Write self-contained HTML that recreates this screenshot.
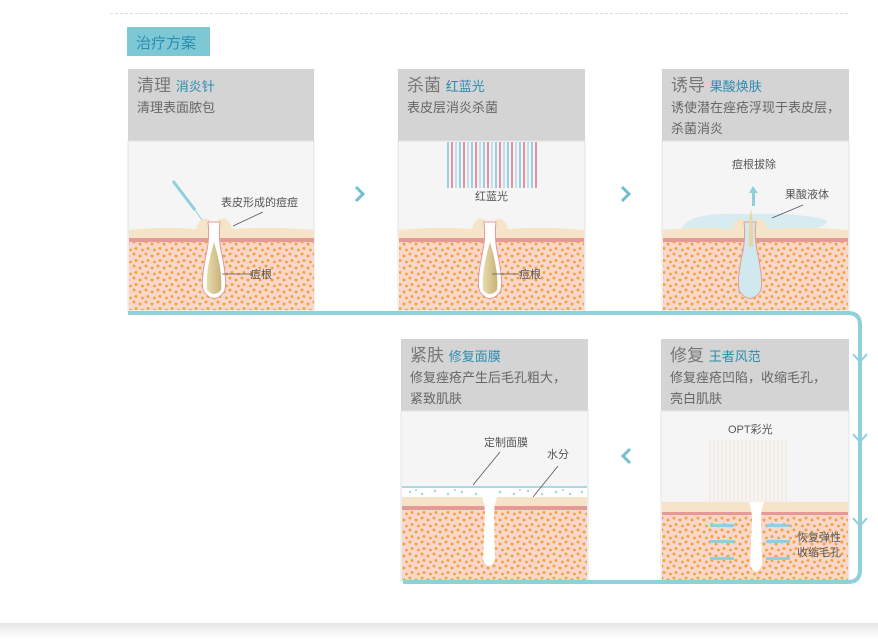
<!DOCTYPE html>
<html><head><meta charset="utf-8"><style>
body{margin:0;width:878px;height:639px;overflow:hidden;background:#fff;font-family:"Liberation Sans","Noto Sans CJK SC",sans-serif;}
svg text{font-family:"Liberation Sans","Noto Sans CJK SC",sans-serif;}
</style></head><body>
<svg width="878" height="639" viewBox="0 0 878 639" xmlns="http://www.w3.org/2000/svg">
<defs>
<pattern id="dots" width="12" height="12" patternUnits="userSpaceOnUse">
<rect width="12" height="12" fill="#f8d8cc"/>
<circle cx="2" cy="2" r="1.5" fill="#f6a23c"/><circle cx="8" cy="4" r="1.5" fill="#f6a23c"/>
<circle cx="4" cy="8.5" r="1.5" fill="#f6a23c"/><circle cx="10.5" cy="10" r="1.4" fill="#f6a23c"/>
</pattern>
<linearGradient id="bot" x1="0" y1="0" x2="0" y2="1"><stop offset="0" stop-color="#e6e6e6"/><stop offset="1" stop-color="#fff"/></linearGradient>
<linearGradient id="root" x1="0" y1="0" x2="1" y2="0"><stop offset="0" stop-color="#e8dcae"/><stop offset="1" stop-color="#c9b27a"/></linearGradient>
</defs>
<line x1="110" y1="13.5" x2="850" y2="13.5" stroke="#ddd" stroke-dasharray="3,2"/>
<rect x="0" y="623" width="878" height="16" fill="url(#bot)"/>
<rect x="127" y="27" width="83" height="29" fill="#7ec8d6"/>
<text x="136" y="48" font-size="15" fill="#2a8db0">治疗方案</text>

<g>
<rect x="128" y="69" width="186" height="72" fill="#d4d4d4"/><rect x="128" y="141" width="186" height="170" fill="#f5f5f5" stroke="#e3e3e3"/>
<rect x="398" y="69" width="187" height="72" fill="#d4d4d4"/><rect x="398" y="141" width="187" height="170" fill="#f5f5f5" stroke="#e3e3e3"/>
<rect x="662" y="69" width="187" height="72" fill="#d4d4d4"/><rect x="662" y="141" width="187" height="170" fill="#f5f5f5" stroke="#e3e3e3"/>
<rect x="401" y="339" width="187" height="72" fill="#d4d4d4"/><rect x="401" y="411" width="187" height="170" fill="#f5f5f5" stroke="#e3e3e3"/>
<rect x="661" y="339" width="188" height="72" fill="#d4d4d4"/><rect x="661" y="411" width="188" height="171" fill="#f5f5f5" stroke="#e3e3e3"/>
</g>

<g font-size="17" fill="#777">
<text x="137" y="91">清理 <tspan fill="#2a8db0" font-size="13">消炎针</tspan></text>
<text x="137" y="112" font-size="13" fill="#666">清理表面脓包</text>
<text x="407" y="91">杀菌 <tspan fill="#2a8db0" font-size="13">红蓝光</tspan></text>
<text x="407" y="112" font-size="13" fill="#666">表皮层消炎杀菌</text>
<text x="671" y="91">诱导 <tspan fill="#2a8db0" font-size="13">果酸焕肤</tspan></text>
<text x="671" y="112" font-size="13" fill="#666">诱使潜在痤疮浮现于表皮层，</text>
<text x="671" y="133" font-size="13" fill="#666">杀菌消炎</text>
<text x="410" y="361">紧肤 <tspan fill="#2a8db0" font-size="13">修复面膜</tspan></text>
<text x="410" y="382" font-size="13" fill="#666">修复痤疮产生后毛孔粗大，</text>
<text x="410" y="403" font-size="13" fill="#666">紧致肌肤</text>
<text x="670" y="361">修复 <tspan fill="#2a8db0" font-size="13">王者风范</tspan></text>
<text x="670" y="382" font-size="13" fill="#666">修复痤疮凹陷，收缩毛孔，</text>
<text x="670" y="403" font-size="13" fill="#666">亮白肌肤</text>
</g>

<!-- panel 1 -->
<rect x="129" y="242" width="185" height="68" fill="url(#dots)"/>
<path d="M129 230 Q165 226 196 229 Q200 215 210 220 L210 238 L129 238Z M218 220 Q228 215 232 229 Q270 226 314 230 L314 238 L218 238Z" fill="#f6e4c9"/>
<rect x="129" y="238" width="185" height="4" fill="#e49a95"/>
<path d="M208 222 Q210 238 206 255 Q200 285 204 292 Q214 305 224 292 Q228 285 222 255 Q218 238 220 222Z" fill="#fff" stroke="#e49a95"/>
<path d="M214 242 Q205 272 207 290 Q214 298 221 290 Q223 272 214 242Z" fill="url(#root)"/>
<!-- panel 2 -->
<rect x="399" y="242" width="185" height="68" fill="url(#dots)"/>
<path d="M399 230 Q440 226 472 229 Q476 215 485 220 L485 238 L399 238Z M495 220 Q504 215 508 229 Q545 226 584 230 L584 238 L495 238Z" fill="#f6e4c9"/>
<rect x="399" y="238" width="185" height="4" fill="#e49a95"/>
<path d="M484 222 Q486 238 482 255 Q476 285 480 292 Q490 305 500 292 Q504 285 498 255 Q494 238 496 222Z" fill="#fff" stroke="#e49a95"/>
<path d="M490 242 Q481 272 483 290 Q490 298 497 290 Q499 272 490 242Z" fill="url(#root)"/>
<!-- panel 3 -->
<rect x="663" y="242" width="185" height="68" fill="url(#dots)"/>
<path d="M682 228 Q690 212 740 214 Q800 212 826 220 Q830 228 800 230 L690 230Z" fill="#d6ecf0"/>
<path d="M663 230 Q700 226 732 229 Q736 215 745 220 L745 238 L663 238Z M755 220 Q764 215 768 229 Q805 226 848 230 L848 238 L755 238Z" fill="#f6e4c9"/>
<rect x="663" y="238" width="185" height="4" fill="#e49a95"/>
<path d="M744 222 Q746 238 742 255 Q736 285 740 292 Q750 305 760 292 Q764 285 758 255 Q754 238 756 222Z" fill="#cfe9ee" stroke="#e49a95"/>
<path d="M751 208 Q748 225 749 247 L753 247 Q754 225 751 208Z" fill="#e9d6a5"/>
<path d="M753 186 L749 193 L752 193 L752 206 L755 206 L755 193 L758 193Z" fill="#8fd0dc"/>

<line x1="173" y1="181" x2="195" y2="210" stroke="#8fd0dc" stroke-width="3"/>
<line x1="195" y1="210" x2="202" y2="220" stroke="#8fd0dc" stroke-width="1"/>
<line x1="233" y1="226" x2="263" y2="212" stroke="#555" stroke-width=".8"/>
<line x1="222" y1="274" x2="252" y2="274" stroke="#555" stroke-width=".8"/>
<g font-size="11" fill="#555">
<text x="221" y="206">表皮形成的痘痘</text>
<text x="250" y="278">痘根</text>
<text x="475" y="200">红蓝光</text>
<text x="519" y="278">痘根</text>
<line x1="492" y1="274" x2="519" y2="274" stroke="#555" stroke-width=".8"/>
<text x="732" y="168">痘根拔除</text>
<text x="785" y="198">果酸液体</text>
<line x1="772" y1="218" x2="803" y2="205" stroke="#555" stroke-width=".8"/>
</g>
<g stroke-width="1.2">
<path d="M448 142V188M460 142V188M472 142V188M484 142V188M496 142V188M508 142V188M520 142V188M532 142V188" stroke="#5fb3e0"/>
<path d="M452 142V188M464 142V188M476 142V188M488 142V188M500 142V188M512 142V188M524 142V188M536 142V188" stroke="#dd5060"/>
<path d="M456 142V188M468 142V188M480 142V188M492 142V188M504 142V188M516 142V188M528 142V188" stroke="#9dd2ee"/>
</g>

<!-- panel 5 -->
<rect x="402" y="510" width="185" height="70" fill="url(#dots)"/>
<rect x="402" y="486" width="185" height="2" fill="#a9d9e3"/>
<rect x="402" y="488" width="185" height="9" fill="#fff"/>
<g fill="#9fd5e0"><circle cx="410" cy="492" r="1.2"/><circle cx="422" cy="494" r="1.2"/><circle cx="435" cy="491" r="1.2"/><circle cx="448" cy="494" r="1.2"/><circle cx="462" cy="492" r="1.2"/><circle cx="476" cy="494" r="1.2"/><circle cx="500" cy="492" r="1.2"/><circle cx="514" cy="494" r="1.2"/><circle cx="528" cy="491" r="1.2"/><circle cx="542" cy="494" r="1.2"/><circle cx="556" cy="492" r="1.2"/><circle cx="570" cy="494" r="1.2"/><circle cx="582" cy="492" r="1.2"/><circle cx="416" cy="490" r="1"/><circle cx="455" cy="490" r="1"/><circle cx="520" cy="490" r="1"/><circle cx="563" cy="490" r="1"/></g>
<rect x="402" y="497" width="185" height="9" fill="#f6e4c9"/>
<rect x="402" y="506" width="185" height="4" fill="#e49a95"/>
<path d="M482 497 Q485 505 485 515 L483 560 Q489 572 495 560 L494 515 Q494 505 497 497Z" fill="#fff"/>
<g font-size="11" fill="#555">
<text x="484" y="446">定制面膜</text><text x="547" y="458">水分</text>
<line x1="473" y1="485" x2="500" y2="452" stroke="#555" stroke-width=".8"/>
<line x1="533" y1="497" x2="558" y2="466" stroke="#555" stroke-width=".8"/>
</g>

<!-- panel 4 -->
<rect x="662" y="515" width="186" height="67" fill="url(#dots)"/>
<g stroke="#ecdcc8" stroke-width=".7">
<path d="M710 440V505M714 440V505M718 440V505M722 440V505M726 440V505M730 440V505M734 440V505M738 440V505M742 440V505M746 440V505M750 440V505M754 440V505M758 440V505M762 440V505M766 440V505M770 440V505M774 440V505M778 440V505M782 440V505M786 440V505"/>
</g>
<rect x="662" y="502" width="186" height="10" fill="#f6e4c9"/>
<rect x="662" y="512" width="186" height="3" fill="#e49a95"/>
<path d="M749 502 Q752 510 752 520 L750 565 Q756 578 762 565 L761 520 Q761 510 764 502Z" fill="#fff"/>
<g fill="#8fd0dc">
<rect x="710" y="524" width="24" height="3"/><rect x="710" y="540" width="24" height="3"/><rect x="710" y="557" width="24" height="3"/>
<rect x="766" y="524" width="24" height="3"/><rect x="766" y="540" width="24" height="3"/><rect x="766" y="557" width="24" height="3"/>
</g>
<g font-size="11" fill="#555">
<text x="728" y="433">OPT彩光</text>
<text x="797" y="541">恢复弹性</text><text x="797" y="556">收缩毛孔</text>
</g>

<g fill="none" stroke="#6fc0cf" stroke-width="3">
<path d="M356 187 L363 194 L356 201"/>
<path d="M622 187 L629 194 L622 201"/>
<path d="M630 449 L623 456 L630 463"/>
</g>

<path d="M128 313 H848 Q860 313 860 325 V570 Q860 582 848 582 H403" fill="none" stroke="#8fd0dc" stroke-width="4"/>
<g fill="none" stroke="#8fd0dc" stroke-width="2">
<path d="M853 354 L860 362 L867 354"/><path d="M853 434 L860 442 L867 434"/><path d="M853 518 L860 526 L867 518"/>
</g>
</svg>
</body></html>
